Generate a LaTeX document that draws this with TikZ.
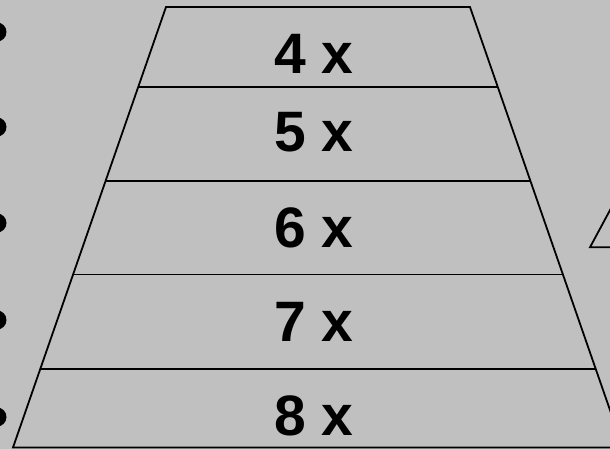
\documentclass[tikz,border=0pt]{standalone}
\usepackage{fontspec}
\setmainfont{Liberation Sans}
\usetikzlibrary{calc}
\definecolor{slidegray}{HTML}{C0C0C0}
\tikzset{
  rowlabel/.style={inner sep=0pt, font=\fontsize{57}{57}\selectfont\bfseries},
  bulletdot/.style={circle, fill=black, minimum size=19pt, inner sep=0pt},
  edge/.style={line width=1.8pt}
}
\begin{document}
\begin{tikzpicture}[x=1pt,y=-1pt]

% background
\fill[slidegray] (0,0) rectangle (610,449);
\useasboundingbox (0,0) rectangle (610,449);
\clip (0,0) rectangle (610,449);

% corners of the trapezoid
\coordinate (tl) at (166,7);
\coordinate (tr) at (470,7);
\coordinate (bl) at (13,447.5);
\coordinate (br) at (623,447.5);

% outline
\draw[edge] (tl) -- (tr) -- (br) -- (bl) -- cycle;

% row separators
\foreach \y/\n in {87/a, 181/b, 274.5/c, 369/d} {
  \pgfmathsetmacro{\t}{(\y-7)/440.5}
  \coordinate (l\n) at ($(tl)!\t!(bl)$);
  \coordinate (r\n) at ($(tr)!\t!(br)$);
  \draw[edge] (l\n) -- (r\n);
}

% labels
\node[rowlabel] (four)  at (314,53.5)  {4 x};
\node[rowlabel] (five)  at (314,132)   {5 x};
\node[rowlabel] (six)   at (314,227.5) {6 x};
\node[rowlabel] (seven) at (314,321.5) {7 x};
\node[rowlabel] (eight) at (314,416)   {8 x};

% bullets on the left edge
\node[bulletdot] (b1) at (-3,32)  {};
\node[bulletdot] (b2) at (-3,127) {};
\node[bulletdot] (b3) at (-3,223) {};
\node[bulletdot] (b4) at (-3,320) {};
\node[bulletdot] (b5) at (-3,417) {};

% triangle on the right, cut by the edge
\coordinate (tri) at (590,247.3);
\draw[edge] (630,173) -- (tri) -- (640,247.3);

\end{tikzpicture}
\end{document}
